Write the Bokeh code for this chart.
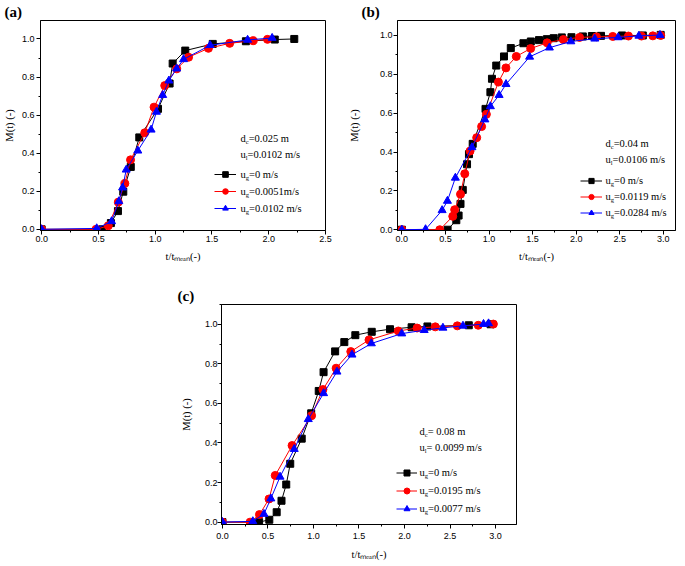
import numpy as np
from bokeh.plotting import figure
from bokeh.models import (Range1d, SingleIntervalTicker, PrintfTickFormatter, Label,
                          Legend, LegendItem, Spacer, Title)
from bokeh.layouts import row, column
from bokeh.embed import file_html
from bokeh.resources import INLINE

# ---------------- data ----------------
# panel (a): d_c=0.025 m, u_l=0.0102 m/s
a_black_x = [0.0, 0.534, 0.61, 0.672, 0.719, 0.785, 0.86, 1.025, 1.127, 1.154, 1.265, 1.507, 1.799, 2.053, 2.225]
a_black_y = [0.0, 0.0, 0.033, 0.096, 0.198, 0.328, 0.483, 0.633, 0.766, 0.871, 0.939, 0.974, 0.988, 0.997, 1.0]
a_red_x = [0.0, 0.479, 0.587, 0.675, 0.733, 0.783, 0.908, 0.99, 1.084, 1.19, 1.294, 1.469, 1.656, 1.863, 1.989]
a_red_y = [0.0, 0.0, 0.019, 0.143, 0.241, 0.365, 0.507, 0.642, 0.755, 0.843, 0.904, 0.951, 0.977, 0.991, 0.998]
a_blue_x = [0.0, 0.485, 0.616, 0.68, 0.713, 0.745, 0.847, 0.964, 1.011, 1.066, 1.121, 1.189, 1.25, 1.484, 1.814, 2.03]
a_blue_y = [0.0, 0.005, 0.042, 0.147, 0.219, 0.313, 0.413, 0.523, 0.617, 0.705, 0.781, 0.844, 0.893, 0.967, 0.995, 1.005]
a_labels = ["0 m/s", "0.0051m/s", "0.0102 m/s"]

# panel (b): d_c=0.04 m, u_l=0.0106 m/s
b_black_x = [0.0, 0.525, 0.625, 0.651, 0.673, 0.699, 0.748, 0.77, 0.813, 0.96, 1.016, 1.034, 1.083, 1.172, 1.25,
             1.395, 1.48, 1.574, 1.664, 1.742, 1.835, 1.946, 2.077, 2.181, 2.285, 2.527, 2.765, 2.97]
b_black_y = [0.0, 0.0, 0.049, 0.073, 0.133, 0.205, 0.337, 0.389, 0.442, 0.622, 0.708, 0.777, 0.845, 0.892, 0.935,
             0.96, 0.969, 0.976, 0.981, 0.986, 0.99, 0.991, 0.995, 0.997, 0.998, 1.0, 1.0, 1.003]
b_red_x = [0.0, 0.435, 0.584, 0.606, 0.673, 0.722, 0.783, 0.859, 0.915, 0.97, 1.108, 1.194, 1.313, 1.478,
           1.667, 1.853, 2.039, 2.233, 2.42, 2.6, 2.75, 2.88, 2.97]
b_red_y = [0.0, 0.0, 0.069, 0.103, 0.183, 0.288, 0.405, 0.474, 0.531, 0.594, 0.76, 0.833, 0.892, 0.933,
           0.962, 0.979, 0.99, 0.993, 0.995, 0.997, 0.997, 0.998, 1.0]
b_blue_x = [0.0, 0.272, 0.462, 0.523, 0.614, 0.804, 0.953, 1.016, 1.116, 1.195, 1.466, 1.693, 1.939, 2.214, 2.482, 2.72, 2.962]
b_blue_y = [0.0, 0.002, 0.1, 0.148, 0.267, 0.424, 0.567, 0.635, 0.693, 0.749, 0.89, 0.937, 0.969, 0.983, 0.99, 0.998, 1.002]
b_labels = ["0 m/s", "0.0119 m/s", "0.0284 m/s"]

# panel (c): d_c=0.08 m, u_l=0.0099 m/s
c_black_x = [0.0, 0.403, 0.515, 0.596, 0.649, 0.701, 0.745, 0.871, 0.975, 1.058, 1.111, 1.238, 1.339, 1.46,
             1.64, 1.841, 2.078, 2.252, 2.706, 2.945]
c_black_y = [0.0, 0.0, 0.012, 0.05, 0.108, 0.19, 0.295, 0.422, 0.55, 0.663, 0.758, 0.863, 0.91, 0.945,
             0.962, 0.975, 0.985, 0.989, 0.995, 1.0]
c_red_x = [0.0, 0.304, 0.407, 0.512, 0.58, 0.765, 0.979, 1.104, 1.249, 1.41, 1.61, 1.932, 2.138, 2.338, 2.58, 2.81, 2.976]
c_red_y = [0.0, 0.0, 0.038, 0.117, 0.236, 0.387, 0.538, 0.67, 0.778, 0.862, 0.921, 0.966, 0.981, 0.987, 0.992, 0.995, 1.001]
c_blue_x = [0.0, 0.334, 0.456, 0.532, 0.633, 0.789, 0.943, 1.111, 1.258, 1.423, 1.636, 1.97, 2.216, 2.422, 2.642, 2.868, 2.923]
c_blue_y = [0.0, 0.004, 0.041, 0.119, 0.229, 0.369, 0.52, 0.651, 0.76, 0.846, 0.903, 0.953, 0.97, 0.982, 0.992, 1.001, 1.004]
c_labels = ["0 m/s", "0.0195 m/s", "0.0077 m/s"]

Y_LABEL = "M(t) (-)"
X_LABEL = "t/t\u2098\u2091\u2090\u2099(-)"

SERIF = "Liberation Serif"
SANS = "Liberation Sans"
FS = 10.5
SUB = 6.5

TIMES_W = {'d': 0.5, 'u': 0.5, 't': 0.278, 'M': 0.889, '(': 0.333, ')': 0.333, '/': 0.278, '-': 0.333,
           ' ': 0.25, '=': 0.564, '.': 0.25, 'm': 0.778, 's': 0.389, 'c': 0.444, 'g': 0.5, 'l': 0.278,
           'e': 0.444, 'a': 0.444, 'n': 0.5}


def tw(s, size):
    return sum(TIMES_W.get(ch, 0.5) for ch in s) * size


def rich(p, x, y, parts, size=FS, sub_size=SUB, drop=3.0):
    cx = x
    for txt, sub in parts:
        fs = sub_size if sub else size
        p.add_layout(Label(x=cx, y=y - (drop if sub else 0), x_units="screen", y_units="screen",
                           text=txt, text_font=SERIF, text_font_size=f"{fs}px",
                           text_baseline="middle", text_align="left", text_color="black"))
        cx += tw(txt, fs)


def make_panel(width, height, bl, br, bt, bb, xr, yr, xls, xas, yls, yas):
    p = figure(width=width, height=height, x_range=Range1d(*xr), y_range=Range1d(*yr),
               output_backend="svg", toolbar_location=None,
               min_border_left=bl, min_border_right=br, min_border_top=bt, min_border_bottom=bb)
    p.xgrid.visible = False
    p.ygrid.visible = False
    p.outline_line_color = "black"
    p.outline_line_width = 1
    p.background_fill_color = "white"
    p.xaxis.ticker = SingleIntervalTicker(interval=0.5, num_minor_ticks=2)
    p.yaxis.ticker = SingleIntervalTicker(interval=0.2, num_minor_ticks=2)
    for ax, ls, as_, lab in ((p.xaxis[0], xls, xas, X_LABEL), (p.yaxis[0], yls, yas, Y_LABEL)):
        ax.formatter = PrintfTickFormatter(format="%.1f")
        ax.axis_label = lab
        ax.axis_label_text_font = SERIF
        ax.axis_label_text_font_size = f"{FS}px"
        ax.axis_label_text_font_style = "normal"
        ax.axis_label_text_color = "black"
        ax.axis_label_standoff = as_
        ax.axis_line_color = "black"
        ax.axis_line_width = 1
        ax.major_tick_out = 4
        ax.major_tick_in = 0
        ax.minor_tick_out = 2
        ax.minor_tick_in = 0
        ax.major_tick_line_color = "black"
        ax.minor_tick_line_color = "black"
        ax.major_label_standoff = ls
        ax.major_label_text_font = SANS
        ax.major_label_text_font_size = "9px"
        ax.major_label_text_color = "black"
    return p


def add_series(p, xs, ys, color, marker, size):
    l = p.line(xs, ys, line_color=color, line_width=1)
    s = p.scatter(xs, ys, marker=marker, size=size, fill_color=color, line_color=color)
    return [l, s]


def decorate(p, txt_x, d_y, u_y, dparts, uparts, leg_x, leg_y, leg_h, leg_gw, rows, labels, renderers):
    rich(p, txt_x, d_y, dparts)
    rich(p, txt_x, u_y, uparts)
    items = [LegendItem(label=" ", renderers=r) for r in renderers]
    leg = Legend(items=items, location=(leg_x, leg_y), orientation="vertical",
                 glyph_width=leg_gw, glyph_height=leg_h, label_height=leg_h, spacing=3,
                 padding=0, margin=0, label_standoff=0, label_width=0,
                 label_text_font_size="9px", background_fill_alpha=0, border_line_alpha=0)
    p.add_layout(leg)
    for ry, lab in zip(rows, labels):
        rich(p, txt_x, ry, [("u", False), ("g", True), ("=" + lab, False)])


def tag_title(p, text, offset):
    p.add_layout(Title(text=text, align="left", offset=offset, vertical_align="middle",
                       text_font=SERIF, text_font_style="bold", text_font_size="15px",
                       text_color="black", standoff=0), "above")


# ---------------- panel a ----------------
pa = make_panel(345, 284, 39, 20, 20, 54, (-0.01, 2.5), (-0.006, 1.097), 1, 6, 2, 4)
ra = [add_series(pa, a_black_x, a_black_y, "black", "square", 7),
      add_series(pa, a_red_x, a_red_y, "red", "circle", 8),
      add_series(pa, a_blue_x, a_blue_y, "blue", "triangle", 8)]
decorate(pa, 200, 92, 76, [("d", False), ("c", True), ("=0.025 m", False)],
         [("u", False), ("l", True), (" =0.0102 m/s", False)],
         174, 15, 14, 22, [56, 39, 22], a_labels, ra)
tag_title(pa, "(a)", -36)

# ---------------- panel b ----------------
pb = make_panel(339, 284, 44, 9, 20, 54, (-0.05, 3.14), (-0.004, 1.077), 1, 6, 1, 17)
rb = [add_series(pb, b_black_x, b_black_y, "black", "square", 7),
      add_series(pb, b_red_x, b_red_y, "red", "circle", 8),
      add_series(pb, b_blue_x, b_blue_y, "blue", "triangle", 8)]
decorate(pb, 208, 87, 71, [("d", False), ("c", True), (" =0.04 m", False)],
         [("u", False), ("l", True), (" =0.0106 m/s", False)],
         183, 11.5, 13, 22, [50, 34, 18], b_labels, rb)
tag_title(pb, "(b)", -36)

# ---------------- panel c ----------------
pc = make_panel(356, 280, 51, 10, 20, 40, (-0.01, 3.23), (-0.012, 1.10), 4, 7, 0, 10)
rc = [add_series(pc, c_black_x, c_black_y, "black", "square", 7),
      add_series(pc, c_red_x, c_red_y, "red", "circle", 8),
      add_series(pc, c_blue_x, c_blue_y, "blue", "triangle", 8)]
decorate(pc, 198, 93, 77, [("d", False), ("c", True), ("= 0.08 m", False)],
         [("u", False), ("l", True), ("= 0.0099 m/s", False)],
         175, 8.5, 15, 21, [52, 34, 16], c_labels, rc)
tag_title(pc, "(c)", -44)

layout = column(row(pa, pb), row(Spacer(width=170, height=280), pc))
open("out.html", "w").write(file_html(layout, INLINE))
